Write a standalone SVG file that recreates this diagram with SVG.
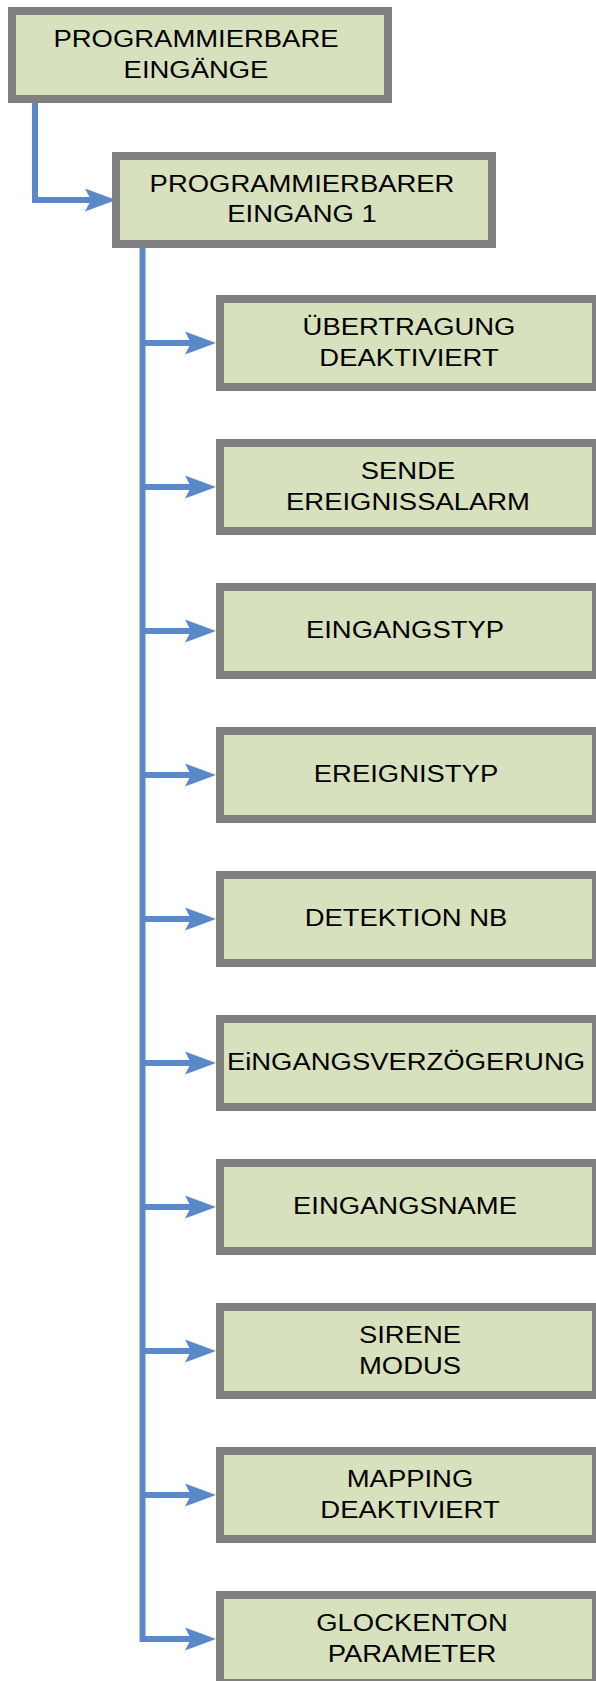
<svg xmlns="http://www.w3.org/2000/svg" width="596" height="1681" viewBox="0 0 596 1681">
<style>
.box{fill:#d8e1bd;stroke:#808080;stroke-width:8}
.lbl{font-family:"Liberation Sans",Arial,sans-serif;font-size:24.5px;fill:#000;text-anchor:middle}
.con{fill:none;stroke:#5b89c8;stroke-width:6;stroke-linejoin:miter}
</style>
<defs>
<marker id="arr" markerUnits="userSpaceOnUse" markerWidth="32" markerHeight="24" refX="6" refY="11.5" orient="auto">
<path d="M0,0 L31,11.5 L0,23 L6,11.5 Z" fill="#5b89c8"/>
</marker>
</defs>
<rect width="596" height="1681" fill="#fff"/>
<g id="connectors">
<path class="con" d="M35,103 V200 H91" marker-end="url(#arr)"/>
<path class="con" d="M142.5,248 V1639 H191" marker-end="url(#arr)"/>
<path class="con" d="M142.5,343 H191" marker-end="url(#arr)"/>
<path class="con" d="M142.5,487 H191" marker-end="url(#arr)"/>
<path class="con" d="M142.5,631 H191" marker-end="url(#arr)"/>
<path class="con" d="M142.5,775 H191" marker-end="url(#arr)"/>
<path class="con" d="M142.5,919 H191" marker-end="url(#arr)"/>
<path class="con" d="M142.5,1063 H191" marker-end="url(#arr)"/>
<path class="con" d="M142.5,1207 H191" marker-end="url(#arr)"/>
<path class="con" d="M142.5,1351 H191" marker-end="url(#arr)"/>
<path class="con" d="M142.5,1495 H191" marker-end="url(#arr)"/>
</g>
<g id="n0"><rect class="box" x="12" y="11" width="376" height="88"/>
<text class="lbl" transform="translate(196,47) scale(1.12,1)"><tspan x="0">PROGRAMMIERBARE</tspan><tspan x="0" dy="31">EINGÄNGE</tspan></text></g>
<g id="n1"><rect class="box" x="116" y="156" width="376" height="88"/>
<text class="lbl" transform="translate(302,192) scale(1.12,1)"><tspan x="0">PROGRAMMIERBARER</tspan><tspan x="0" dy="30">EINGANG 1</tspan></text></g>
<g id="n2"><rect class="box" x="220" y="299" width="376" height="88"/>
<text class="lbl" transform="translate(409,335) scale(1.12,1)"><tspan x="0">ÜBERTRAGUNG</tspan><tspan x="0" dy="31">DEAKTIVIERT</tspan></text></g>
<g id="n3"><rect class="box" x="220" y="443" width="376" height="88"/>
<text class="lbl" transform="translate(408,479) scale(1.12,1)"><tspan x="0">SENDE</tspan><tspan x="0" dy="31">EREIGNISSALARM</tspan></text></g>
<g id="n4"><rect class="box" x="220" y="587" width="376" height="88"/>
<text class="lbl" transform="translate(405,638) scale(1.12,1)">EINGANGSTYP</text></g>
<g id="n5"><rect class="box" x="220" y="731" width="376" height="88"/>
<text class="lbl" transform="translate(406,782) scale(1.12,1)">EREIGNISTYP</text></g>
<g id="n6"><rect class="box" x="220" y="875" width="376" height="88"/>
<text class="lbl" transform="translate(406,926) scale(1.12,1)">DETEKTION NB</text></g>
<g id="n7"><rect class="box" x="220" y="1019" width="376" height="88"/>
<text class="lbl" transform="translate(406,1070) scale(1.12,1)">EiNGANGSVERZÖGERUNG</text></g>
<g id="n8"><rect class="box" x="220" y="1163" width="376" height="88"/>
<text class="lbl" transform="translate(405,1214) scale(1.12,1)">EINGANGSNAME</text></g>
<g id="n9"><rect class="box" x="220" y="1307" width="376" height="88"/>
<text class="lbl" transform="translate(410,1343) scale(1.12,1)"><tspan x="0">SIRENE</tspan><tspan x="0" dy="31">MODUS</tspan></text></g>
<g id="n10"><rect class="box" x="220" y="1451" width="376" height="88"/>
<text class="lbl" transform="translate(410,1487) scale(1.12,1)"><tspan x="0">MAPPING</tspan><tspan x="0" dy="31">DEAKTIVIERT</tspan></text></g>
<g id="n11"><rect class="box" x="220" y="1595" width="376" height="88"/>
<text class="lbl" transform="translate(412,1631) scale(1.12,1)"><tspan x="0">GLOCKENTON</tspan><tspan x="0" dy="31">PARAMETER</tspan></text></g>
</svg>
